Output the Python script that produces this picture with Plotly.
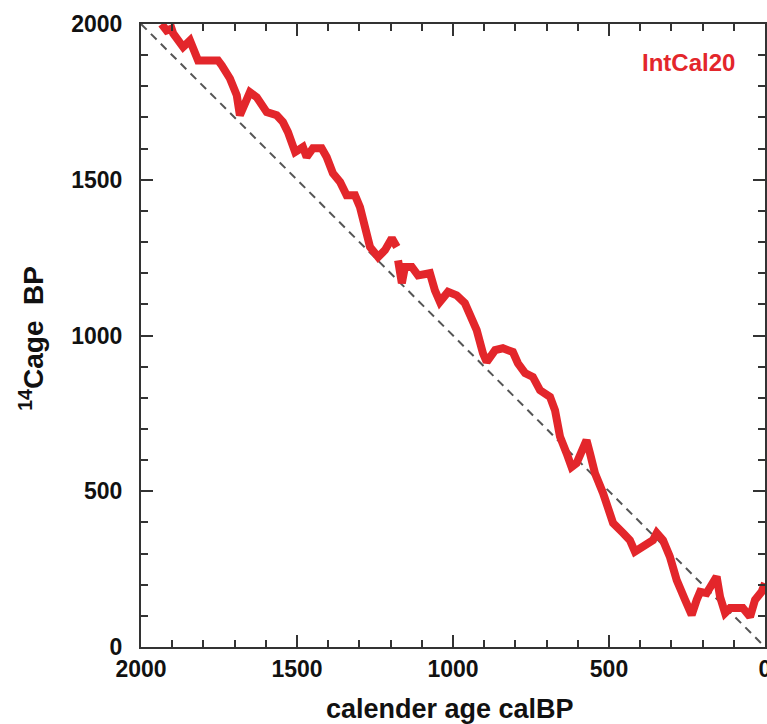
import plotly.graph_objects as go

# IntCal20 curve (calendar age calBP, 14C age BP); None marks the gap
cal_age = [1934, 1918, 1902, 1897, 1865, 1843, 1817, 1789, 1753, 1741, 1715, 1693, 1683,
           1651, 1629, 1597, 1565, 1545, 1529, 1506, 1481, 1469, 1449, 1421, 1405, 1385,
           1362, 1341, 1314, 1298, 1282, 1266, 1240, 1218, 1196, 1180, None,
           1176, 1164, 1154, 1132, 1112, 1074, 1058, 1042, 1016, 988, 962, 946, 924, 904,
           892, 865, 840, 808, 792, 769, 744, 721, 689, 673, 657, 636, 620, 604, 583, 572,
           561, 545, 519, 497, 487, 455, 433, 417, 391, 359, 347, 327, 305, 283, 256, 235,
           219, 208, 187, 167, 155, 144, 128, 112, 71, 48, 32, 11, 0]
c14_age = [2000, 1979, 1985, 1970, 1926, 1947, 1883, 1883, 1883, 1867, 1825, 1771, 1707,
           1781, 1765, 1717, 1707, 1685, 1653, 1589, 1605, 1573, 1601, 1601, 1573, 1521,
           1493, 1450, 1450, 1412, 1348, 1284, 1252, 1274, 1312, 1284, None,
           1241, 1168, 1220, 1220, 1193, 1200, 1145, 1108, 1140, 1129, 1104, 1060, 1017, 943,
           915, 953, 959, 947, 911, 879, 867, 824, 803, 760, 675, 622, 578, 590, 643, 664,
           622, 558, 494, 430, 398, 366, 343, 306, 322, 343, 366, 343, 290, 215, 151, 103,
           151, 177, 173, 205, 226, 161, 109, 125, 125, 97, 151, 177, 205]

# 1:1 reference line
ref_x = [2000, 0]
ref_y = [2000, 0]

series_label = "IntCal20"
x_title = "calender age calBP"
y_title = "<sup>14</sup>Cage\u00a0\u00a0BP"
tick_vals = [0, 500, 1000, 1500, 2000]

RED = "#e3262b"
AX = "#333333"
TXT = "#111111"
FONT = "Liberation Sans, Arial, Helvetica, sans-serif"

fig = go.Figure()
fig.add_trace(go.Scatter(x=ref_x, y=ref_y, mode="lines",
                         line=dict(color="#555555", width=2, dash="8px,6px"),
                         showlegend=False, hoverinfo="skip"))
fig.add_trace(go.Scatter(x=cal_age, y=c14_age, mode="lines", connectgaps=False,
                         line=dict(color=RED, width=8), name=series_label,
                         showlegend=False))

fig.add_annotation(x=244, y=1878, xref="x", yref="y", text="<b>" + series_label + "</b>",
                   showarrow=False, font=dict(family=FONT, size=24, color=RED))

# axis titles
fig.add_annotation(x=0.495, y=-0.100, xref="paper", yref="paper",
                   text="<b>" + x_title + "</b>", showarrow=False,
                   xanchor="center", yanchor="middle",
                   font=dict(family=FONT, size=27, color=TXT))
fig.add_annotation(x=-0.176, y=0.495, xref="paper", yref="paper",
                   text="<b>" + y_title + "</b>", showarrow=False, textangle=-90,
                   xanchor="center", yanchor="middle",
                   font=dict(family=FONT, size=28, color=TXT))

axis_common = dict(
    showgrid=False, zeroline=False, showline=True, linecolor=AX, linewidth=2,
    mirror="ticks", ticks="inside", ticklen=12, tickwidth=2, tickcolor=AX,
    automargin=False, title=dict(text=""), ticklabeloverflow="allow",
    tickvals=tick_vals, tickfont=dict(family=FONT, size=23, color=TXT, weight="bold"),
    minor=dict(dtick=100, ticks="inside", ticklen=7, tickwidth=2, tickcolor=AX),
)

fig.update_xaxes(range=[2000, 0], autorange=False, ticklabelstandoff=0, **axis_common)
fig.update_yaxes(range=[0, 2000], autorange=False, ticklabelstandoff=12, **axis_common)

fig.update_layout(width=767, height=724, plot_bgcolor="white", paper_bgcolor="white",
                  margin=dict(l=141, r=2, t=24, b=77))

fig.write_html("out.html", config={"displayModeBar": False},
               post_script="document.body.style.margin='0';document.body.style.overflow='hidden';")
